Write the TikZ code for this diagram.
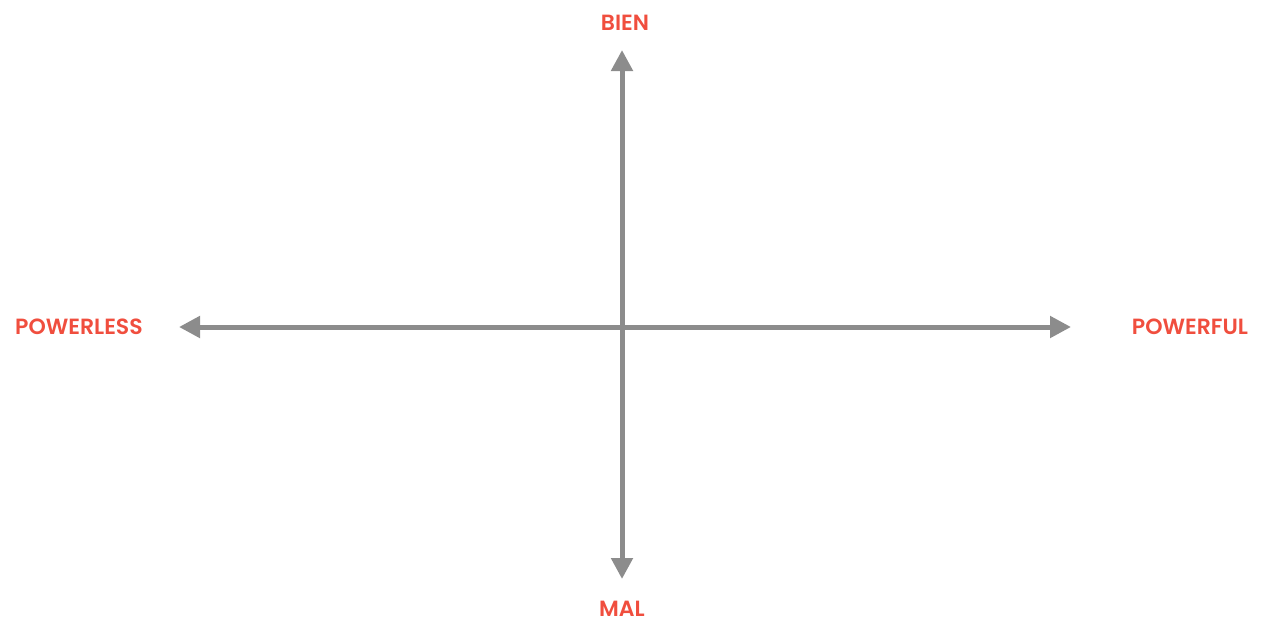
\documentclass[tikz,border=0pt]{standalone}
\usepackage{fontspec}
\setmainfont{Poppins}[UprightFont=* SemiBold]
\usetikzlibrary{arrows.meta}
\definecolor{axisgray}{RGB}{140,140,140}
\definecolor{labelred}{RGB}{240,78,62}
\tikzset{
  axis/.style={draw=axisgray, line width=5pt, {Triangle[length=21pt,width=21pt]}-{Triangle[length=21pt,width=21pt]}},
  lbl/.style={text=labelred, font=\fontsize{22}{22}\selectfont, inner sep=0pt, anchor=center}
}
\begin{document}
\begin{tikzpicture}[x=1pt,y=-1pt]
\useasboundingbox (0,0) rectangle (1267,624);
\coordinate (top) at (622,50);
\coordinate (bot) at (622,579);
\coordinate (left) at (179,327);
\coordinate (right) at (1071,327);
\draw[axis] (top) -- (bot);
\draw[axis] (left) -- (right);
\node[lbl] (bien) at (625,23) {BIEN};
\node[lbl] (mal) at (622,609) {MAL};
\node[lbl] (powerless) at (79,327) {POWERLESS};
\node[lbl] (powerful) at (1190,327) {POWERFUL};
\end{tikzpicture}
\end{document}
